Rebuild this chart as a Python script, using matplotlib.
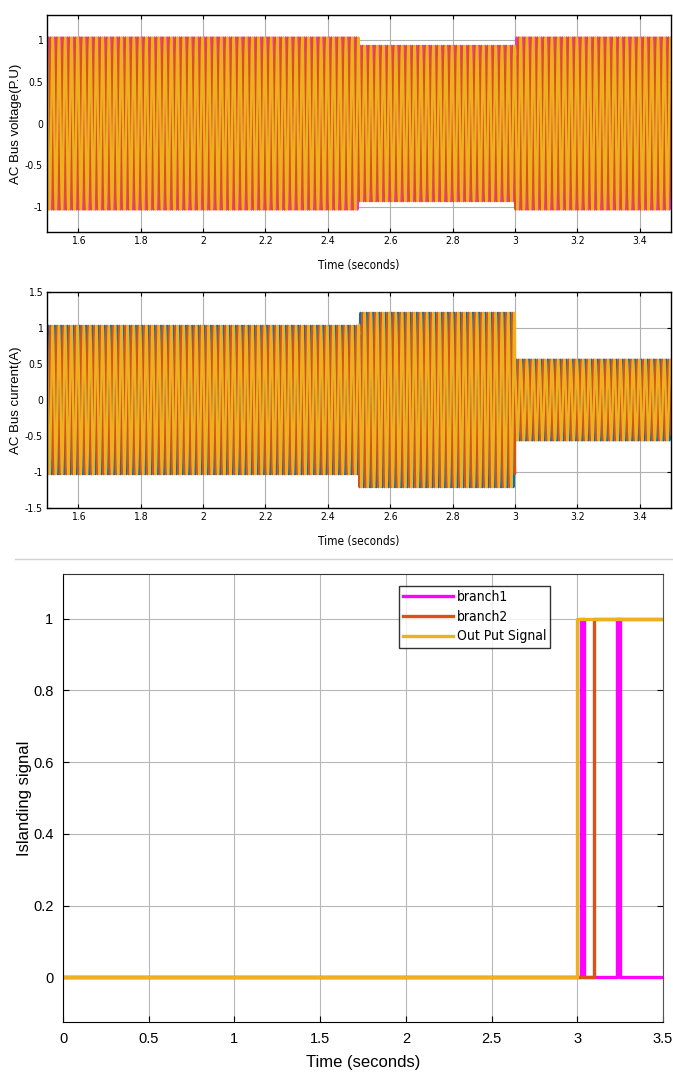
import matplotlib
matplotlib.use("Agg")
import matplotlib.pyplot as plt
import numpy as np

# --- data ---
f_grid = 50.0  # Hz, about 10 cycles per 0.2 s
seg_edges = [1.5, 2.5, 3.0, 3.5]           # time breakpoints (s)
v_amp = [1.03, 0.93, 1.03]                 # voltage peak per segment (P.U)
i_amp = [1.03, 1.21, 0.56]                 # current peak per segment (A)
phase_shift = [0.0, -120.0, 120.0]         # deg, three phases

v_colors = ["#f72fc4", "#d95319", "#edb120"]
i_colors = ["#0072bd", "#d95319", "#edb120"]

# islanding signals (step points)
t_branch1 = [0.0, 3.02, 3.02, 3.04, 3.04, 3.23, 3.23, 3.25, 3.25, 3.5]
y_branch1 = [0, 0, 1, 1, 0, 0, 1, 1, 0, 0]
t_branch2 = [0.0, 3.1, 3.1, 3.5]
y_branch2 = [0, 0, 1, 1]
t_out = [0.0, 3.0, 3.0, 3.5]
y_out = [0, 0, 1, 1]


def wave(amps, shift_deg):
    t = np.linspace(seg_edges[0], seg_edges[-1], 20001)
    conds = [(t >= a) & (t < b) for a, b in zip(seg_edges[:-1], seg_edges[1:])]
    amp = np.select(conds, amps, amps[-1])
    return t, amp * np.sin(2 * np.pi * f_grid * t + np.deg2rad(shift_deg))


W, H = 673, 1074
fig = plt.figure(figsize=(W / 100, H / 100), dpi=100)
narrow = dict(family="DejaVu Sans", stretch="condensed")
big = ["Liberation Sans", "DejaVu Sans"]


def box(l, r, t, b):
    return [l / W, (H - b) / H, (r - l) / W, (b - t) / H]


def style_top(ax, yt):
    ax.grid(True, color="#b0b0b0", linewidth=0.8)
    ax.set_axisbelow(True)
    for s in ax.spines.values():
        s.set_linewidth(1.0)
    ax.tick_params(direction="in", length=3, top=True, right=True, pad=3)
    ax.set_xlim(1.5, 3.5)
    ax.set_xticks([1.6, 1.8, 2.0, 2.2, 2.4, 2.6, 2.8, 3.0, 3.2, 3.4])
    ax.set_xticklabels(["1.6", "1.8", "2", "2.2", "2.4", "2.6", "2.8", "3", "3.2", "3.4"],
                       fontsize=7.5, **narrow)
    ax.set_yticks(yt)
    ax.set_yticklabels(["%g" % v for v in yt], fontsize=7.5, **narrow)
    ax.set_xlabel("Time (seconds)", fontsize=8.5, labelpad=9, **narrow)


# voltage
ax1 = fig.add_axes(box(47, 671, 15, 232))
for c, ph in zip(v_colors, phase_shift):
    t, y = wave(v_amp, ph)
    ax1.plot(t, y, color=c, linewidth=1.7)
ax1.set_ylim(-1.3, 1.3)
style_top(ax1, [-1, -0.5, 0, 0.5, 1])
ax1.set_ylabel("AC Bus voltage(P.U)", fontsize=9.5, family=big)
ax1.yaxis.set_label_coords(-25 / 624, 0.5)

# current
ax2 = fig.add_axes(box(47, 671, 292, 508))
for c, ph in zip(i_colors, phase_shift):
    t, y = wave(i_amp, ph)
    ax2.plot(t, y, color=c, linewidth=1.7)
ax2.set_ylim(-1.5, 1.5)
style_top(ax2, [-1.5, -1, -0.5, 0, 0.5, 1, 1.5])
ax2.set_ylabel("AC Bus current(A)", fontsize=9.5, family=big)
ax2.yaxis.set_label_coords(-25 / 624, 0.5)

# separator line between the figures
fig.add_artist(plt.Line2D([15 / W, 1.0], [(H - 559) / H] * 2, color="#d0d0d0", linewidth=1.0))

# islanding signal
ax3 = fig.add_axes(box(63, 663, 574, 1022))
ax3.plot(t_branch1, y_branch1, color="#ff00ff", linewidth=2.4, label="branch1")
ax3.plot(t_branch2, y_branch2, color="#d95319", linewidth=2.4, label="branch2")
ax3.plot(t_out, y_out, color="#edb120", linewidth=2.4, label="Out Put Signal")
ax3.set_xlim(0, 3.5)
ax3.set_ylim(-0.125, 1.125)
ax3.set_xticks([0, 0.5, 1, 1.5, 2, 2.5, 3, 3.5])
ax3.set_xticklabels(["0", "0.5", "1", "1.5", "2", "2.5", "3", "3.5"], family=big)
ax3.set_yticks([0, 0.2, 0.4, 0.6, 0.8, 1])
ax3.set_yticklabels(["0", "0.2", "0.4", "0.6", "0.8", "1"], family=big)
ax3.grid(True, color="#b8b8b8", linewidth=0.8)
ax3.set_axisbelow(True)
ax3.tick_params(direction="in", length=4, labelsize=10.5, right=True, top=False, pad=7)
ax3.spines["right"].set_color("#555555")
ax3.spines["top"].set_color("#333333")
ax3.set_xlabel("Time (seconds)", fontsize=12, family=big, labelpad=7)
ax3.set_ylabel("Islanding signal", fontsize=12, family=big)
ax3.yaxis.set_label_coords(-31 / 600, 0.5)
leg = ax3.legend(loc="upper left", bbox_to_anchor=(336 / 600, 0.973), frameon=True,
                 fancybox=False, edgecolor="black", handlelength=3.6, handletextpad=0.25,
                 borderpad=0.3, labelspacing=0.4, borderaxespad=0.0,
                 prop={"family": "DejaVu Sans", "stretch": "condensed", "size": 10})
leg.get_frame().set_linewidth(1.0)

fig.savefig("out.png", dpi=100)
